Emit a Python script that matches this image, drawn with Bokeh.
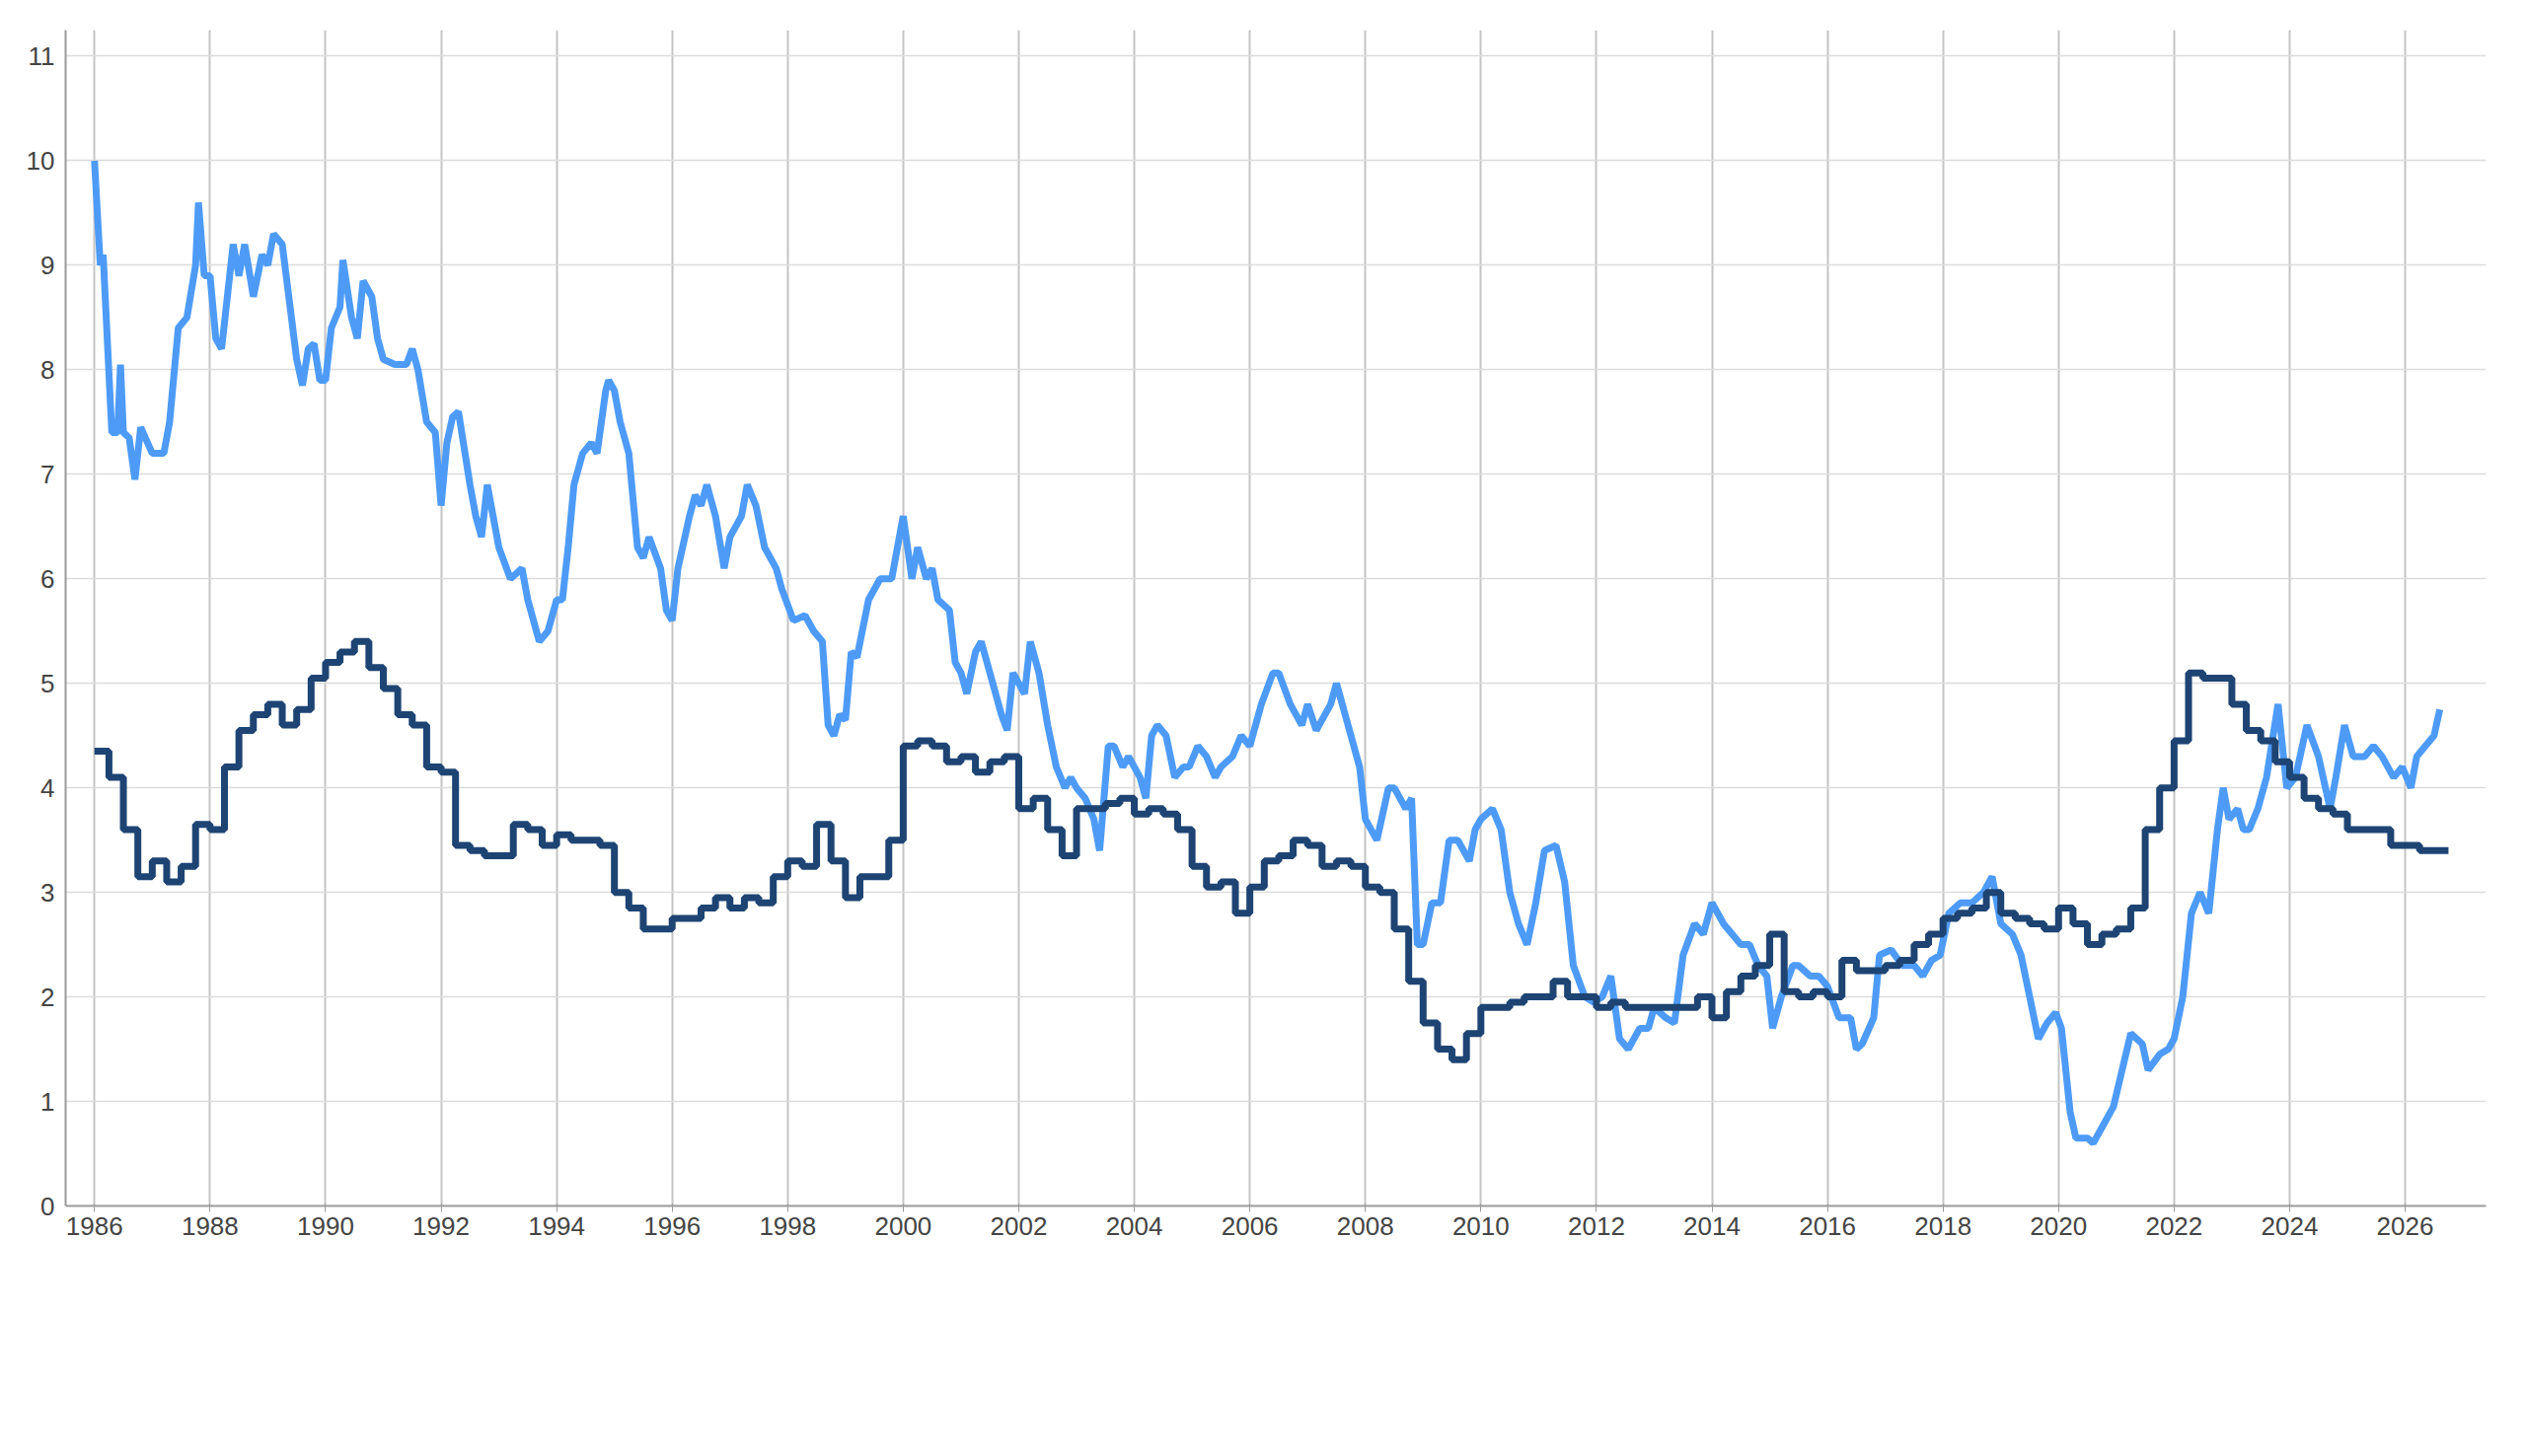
from bokeh.plotting import figure
from bokeh.models import Legend, LegendItem, Label, FixedTicker, Range1d
from bokeh.embed import file_html
from bokeh.resources import INLINE

yield_t = [1986.0,1986.1,1986.15,1986.3,1986.4,1986.45,1986.5,1986.6,1986.7,1986.8,1987.0,1987.2,1987.3,1987.45,1987.6,1987.75,1987.8,1987.9,1988.0,1988.1,1988.2,1988.4,1988.5,1988.6,1988.75,1988.9,1989.0,1989.1,1989.25,1989.5,1989.6,1989.7,1989.8,1989.9,1990.0,1990.1,1990.25,1990.3,1990.45,1990.55,1990.65,1990.8,1990.9,1991.0,1991.2,1991.4,1991.5,1991.6,1991.75,1991.9,1992.0,1992.1,1992.2,1992.3,1992.5,1992.6,1992.7,1992.8,1992.9,1993.0,1993.2,1993.4,1993.5,1993.7,1993.85,1994.0,1994.1,1994.2,1994.3,1994.45,1994.6,1994.7,1994.85,1994.9,1995.0,1995.1,1995.25,1995.4,1995.5,1995.6,1995.8,1995.9,1996.0,1996.1,1996.3,1996.4,1996.5,1996.6,1996.75,1996.9,1997.0,1997.2,1997.3,1997.45,1997.6,1997.8,1997.9,1998.1,1998.3,1998.45,1998.6,1998.7,1998.8,1998.9,1999.0,1999.1,1999.2,1999.4,1999.6,1999.8,1999.9,2000.0,2000.15,2000.25,2000.4,2000.5,2000.6,2000.8,2000.9,2001.0,2001.1,2001.25,2001.35,2001.5,2001.7,2001.8,2001.9,2002.0,2002.1,2002.2,2002.35,2002.5,2002.65,2002.8,2002.9,2003.0,2003.15,2003.3,2003.4,2003.55,2003.65,2003.8,2003.9,2004.1,2004.2,2004.3,2004.4,2004.55,2004.7,2004.85,2004.95,2005.1,2005.25,2005.4,2005.5,2005.7,2005.85,2006.0,2006.2,2006.4,2006.5,2006.7,2006.9,2007.0,2007.15,2007.4,2007.5,2007.7,2007.9,2008.0,2008.2,2008.4,2008.5,2008.7,2008.8,2008.9,2009.0,2009.15,2009.3,2009.45,2009.6,2009.8,2009.9,2010.0,2010.2,2010.35,2010.5,2010.65,2010.8,2010.95,2011.1,2011.3,2011.45,2011.6,2011.8,2011.95,2012.1,2012.25,2012.4,2012.55,2012.75,2012.9,2013.0,2013.2,2013.35,2013.5,2013.7,2013.85,2014.0,2014.2,2014.35,2014.5,2014.65,2014.8,2014.95,2015.05,2015.2,2015.4,2015.5,2015.7,2015.85,2016.0,2016.2,2016.4,2016.5,2016.6,2016.8,2016.9,2017.1,2017.3,2017.5,2017.65,2017.8,2017.95,2018.1,2018.3,2018.5,2018.7,2018.85,2019.0,2019.2,2019.35,2019.5,2019.65,2019.8,2019.95,2020.05,2020.2,2020.3,2020.5,2020.6,2020.8,2020.95,2021.1,2021.25,2021.45,2021.55,2021.75,2021.9,2022.0,2022.15,2022.3,2022.45,2022.6,2022.75,2022.85,2022.95,2023.1,2023.2,2023.3,2023.45,2023.6,2023.8,2023.95,2024.1,2024.3,2024.5,2024.7,2024.8,2024.95,2025.1,2025.3,2025.45,2025.6,2025.8,2025.95,2026.1,2026.2,2026.35,2026.5,2026.6]
yield_v = [10.0,9.0,9.1,7.4,7.4,8.05,7.4,7.35,6.95,7.45,7.2,7.2,7.5,8.4,8.5,9.0,9.6,8.9,8.9,8.3,8.2,9.2,8.9,9.2,8.7,9.1,9.0,9.3,9.2,8.1,7.85,8.2,8.25,7.9,7.9,8.4,8.6,9.05,8.5,8.3,8.85,8.7,8.3,8.1,8.05,8.05,8.2,8.0,7.5,7.4,6.7,7.3,7.55,7.6,6.9,6.6,6.4,6.9,6.6,6.3,6.0,6.1,5.8,5.4,5.5,5.8,5.8,6.3,6.9,7.2,7.3,7.2,7.8,7.9,7.8,7.5,7.2,6.3,6.2,6.4,6.1,5.7,5.6,6.1,6.6,6.8,6.7,6.9,6.6,6.1,6.4,6.6,6.9,6.7,6.3,6.1,5.9,5.6,5.65,5.5,5.4,4.6,4.5,4.7,4.65,5.3,5.25,5.8,6.0,6.0,6.3,6.6,6.0,6.3,6.0,6.1,5.8,5.7,5.2,5.1,4.9,5.3,5.4,5.1,4.7,4.55,5.1,5.0,4.9,5.4,5.1,4.6,4.2,4.0,4.1,4.0,3.9,3.7,3.4,4.4,4.4,4.2,4.3,4.1,3.9,4.5,4.6,4.5,4.1,4.2,4.2,4.4,4.3,4.1,4.2,4.3,4.5,4.4,4.8,5.1,5.1,4.8,4.6,4.8,4.55,4.8,5.0,4.6,4.2,3.7,3.5,4.0,4.0,3.8,3.9,2.5,2.5,2.9,2.9,3.5,3.5,3.3,3.6,3.7,3.8,3.6,3.0,2.7,2.5,2.9,3.4,3.45,3.1,2.3,2.0,1.95,2.0,2.2,1.6,1.5,1.7,1.7,1.9,1.8,1.75,2.4,2.7,2.6,2.9,2.7,2.6,2.5,2.5,2.3,2.2,1.7,2.0,2.3,2.3,2.2,2.2,2.1,1.8,1.8,1.5,1.55,1.8,2.4,2.45,2.3,2.3,2.2,2.35,2.4,2.8,2.9,2.9,3.0,3.15,2.7,2.6,2.4,2.0,1.6,1.75,1.85,1.7,0.9,0.65,0.65,0.6,0.8,0.95,1.3,1.65,1.55,1.3,1.45,1.5,1.6,2.0,2.8,3.0,2.8,3.6,4.0,3.7,3.8,3.6,3.6,3.8,4.1,4.8,4.0,4.1,4.6,4.3,3.8,4.1,4.6,4.3,4.3,4.4,4.3,4.1,4.2,4.0,4.3,4.4,4.5,4.75]

eci_v = [4.35,4.1,3.6,3.15,3.3,3.1,3.25,3.65,3.6,4.2,4.55,4.7,4.8,4.6,4.75,5.05,5.2,5.3,5.4,5.15,4.95,4.7,4.6,4.2,4.15,3.45,3.4,3.35,3.35,3.65,3.6,3.45,3.55,3.5,3.5,3.45,3.0,2.85,2.65,2.65,2.75,2.75,2.85,2.95,2.85,2.95,2.9,3.15,3.3,3.25,3.65,3.3,2.95,3.15,3.15,3.5,4.4,4.45,4.4,4.25,4.3,4.15,4.25,4.3,3.8,3.9,3.6,3.35,3.8,3.8,3.85,3.9,3.75,3.8,3.75,3.6,3.25,3.05,3.1,2.8,3.05,3.3,3.35,3.5,3.45,3.25,3.3,3.25,3.05,3.0,2.65,2.15,1.75,1.5,1.4,1.65,1.9,1.9,1.95,2.0,2.0,2.15,2.0,2.0,1.9,1.95,1.9,1.9,1.9,1.9,1.9,2.0,1.8,2.05,2.2,2.3,2.6,2.05,2.0,2.05,2.0,2.35,2.25,2.25,2.3,2.35,2.5,2.6,2.75,2.8,2.85,3.0,2.8,2.75,2.7,2.65,2.85,2.7,2.5,2.6,2.65,2.85,3.6,4.0,4.45,5.1,5.05,5.05,4.8,4.55,4.45,4.25,4.1,3.9,3.8,3.75,3.6,3.6,3.6,3.45,3.45,3.4,3.4]
eci_q = [1986.0 + 0.25 * i for i in range(len(eci_v))]
eci_x = eci_q + [eci_q[-1] + 0.25]
eci_y = eci_v + [eci_v[-1]]

years = list(range(1986, 2027, 2))

p = figure(width=2544, height=1460, output_backend="svg", toolbar_location=None,
           x_range=Range1d(1985.5, 2027.4), y_range=Range1d(0, 11.25),
           min_border_left=66, min_border_right=25, min_border_top=30, min_border_bottom=238)
p.background_fill_color = "white"
p.outline_line_color = None
p.xgrid.ticker = FixedTicker(ticks=years)
p.xgrid.grid_line_color = "#c4c4c4"
p.xgrid.grid_line_width = 2
p.ygrid.grid_line_color = "#dcdcdc"
p.ygrid.grid_line_width = 1.5
p.xaxis.ticker = FixedTicker(ticks=years)
p.yaxis.ticker = FixedTicker(ticks=list(range(0, 12)))
for ax in (p.xaxis, p.yaxis):
    ax.major_label_text_font = "Liberation Sans"
    ax.major_label_text_font_size = "26px"
    ax.major_label_text_color = "#444444"
    ax.axis_line_color = "#9a9a9a"
    ax.major_tick_line_color = "#9a9a9a"
    ax.minor_tick_line_color = None
    ax.axis_line_width = 2
p.yaxis.major_tick_line_color = None

r1 = p.line(yield_t, yield_v, line_color="#4d9bf7", line_width=7)
r2 = p.step(eci_x, eci_y, mode="after", line_color="#1d4473", line_width=7)

leg = Legend(items=[
    LegendItem(label="Government Benchmarks, Federal Reserve, 10 Year, Yield", renderers=[r1]),
    LegendItem(label="Productivity, Costs & Hours Worked, Employment Cost Index, Total Compensation, Civilian Workers, Total, Current Prices, SA, Index [c.o.p. 1 year]", renderers=[r2]),
], location=(-48, -160), orientation="vertical", label_text_font="Liberation Sans",
   label_text_font_size="26px", label_text_color="#333333", glyph_width=36,
   spacing=12, padding=0, margin=0, border_line_color=None, background_fill_alpha=0,
   label_standoff=4)
p.add_layout(leg, "center")
p.add_layout(Label(x=-42, y=-232, x_units="screen", y_units="screen",
                   text="Source: Mott Capital Management, Macrobond, U.S. Bureau of Labor Statistics (BLS), U.S. Department of Treasury",
                   text_font="Liberation Sans", text_font_size="31px", text_color="#111111"))

open("out.html", "w").write(file_html(p, INLINE))
